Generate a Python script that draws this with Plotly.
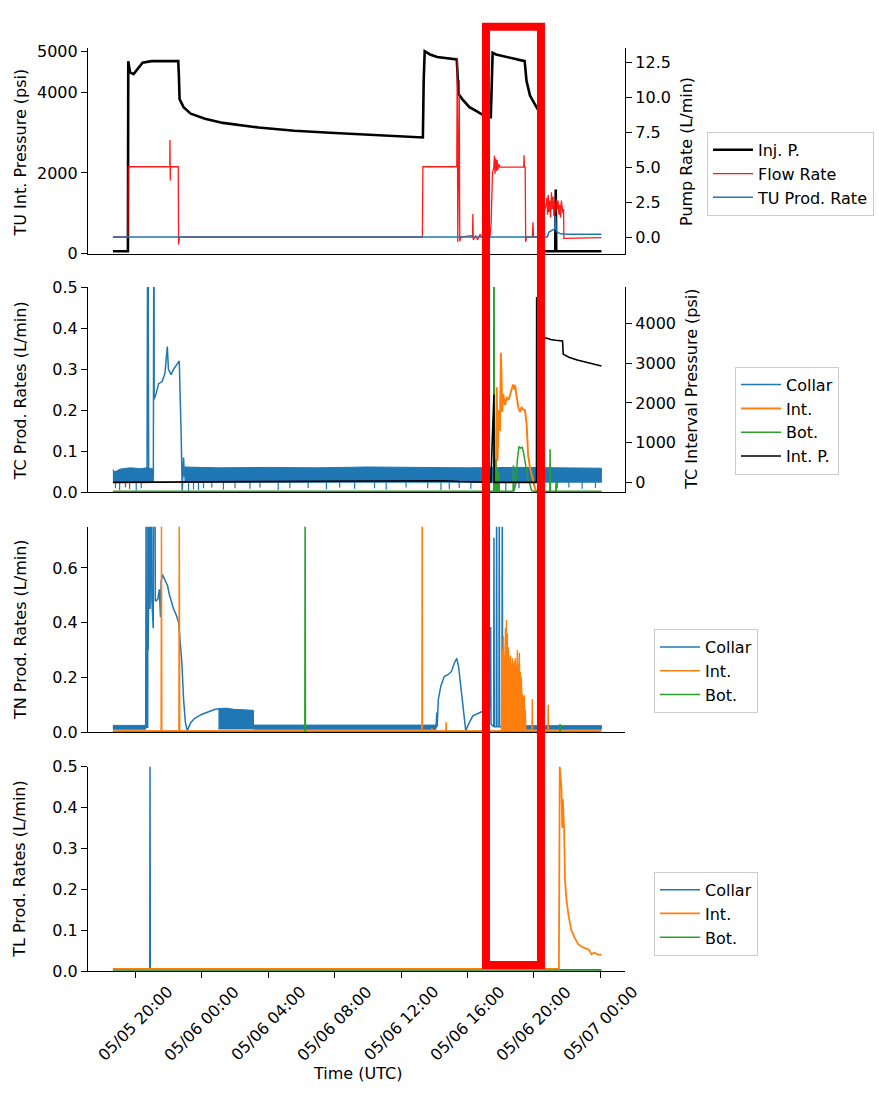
import pandas as pd
import plotly.graph_objects as go

# ---------------- time helpers (hours after 05/05 20:00 UTC) ----------------
BASE = pd.Timestamp("2022-05-05 20:00")


def T(hours):
    return [None if h is None else (BASE + pd.Timedelta(hours=h)).strftime("%Y-%m-%d %H:%M:%S") for h in hours]


x_range_h = [-2.854, 29.48]
tick_h = [0, 4, 8, 12, 16, 20, 24, 28]
tick_labels = ["05/05 20:00", "05/06 00:00", "05/06 04:00", "05/06 08:00",
               "05/06 12:00", "05/06 16:00", "05/06 20:00", "05/07 00:00"]

# ---------------- Panel 1: TU ----------------
inj_t = [-1.355, -0.45, -0.43, -0.32, -0.11, 0.11, 0.43, 0.97, 2.58, 2.62, 2.66, 2.90, 3.33, 4.19, 5.27,
         7.42, 9.57, 11.72, 13.87, 16.02, 17.31, 17.36, 17.42, 17.74, 18.17, 19.35, 19.40, 19.46, 19.68,
         20.11, 20.54, 20.86, 21.40, 21.46, 21.51, 21.72, 22.47, 23.44, 23.50, 23.55, 23.76, 24.09, 24.24,
         24.40, 24.45, 24.73, 25.28, 25.31, 25.34, 28.06]
inj_p = [60, 60, 4770, 4490, 4450, 4570, 4730, 4770, 4770, 4400, 3830, 3630, 3470, 3345, 3240,
         3125, 3045, 2995, 2955, 2920, 2880, 4300, 5015, 4935, 4870, 4810, 4300, 3955, 3830,
         3630, 3530, 3450, 3385, 4500, 4975, 4935, 4855, 4770, 4500, 4280, 3915, 3670, 3565,
         3500, 60, 60, 60, 1590, 60, 60]

flow_t = [-1.355, -0.45, -0.43, 2.07, 2.08, 2.10, 2.11, 2.58, 2.60, 2.65, 17.28, 17.31, 19.35, 19.38, 19.41,
          19.50, 19.53, 19.60, 20.20, 20.30, 20.32, 20.34, 20.50, 20.60, 20.75, 20.86, 21.35, 21.42, 21.50,
          21.58, 21.62, 21.65, 21.70, 21.74, 21.78, 21.82, 21.88, 21.95, 23.38, 23.40, 23.42, 23.47, 23.50,
          23.55, 23.90, 23.94, 23.97, 24.20, 24.75, 24.78, 24.82, 24.86, 24.90, 24.95, 25.00, 25.05, 25.10,
          25.15, 25.20, 25.25, 25.30, 25.35, 25.40, 25.45, 25.50, 25.55, 25.60, 25.65, 25.70, 25.74, 25.78,
          25.80, 28.06]
flow_v = [0, 0, 5.02, 5.02, 6.94, 4.04, 5.02, 5.02, -0.54, 0, 0, 5.02, 5.02, 12.8, -0.35,
          11.2, -0.3, 0, 0.1, 0, 1.64, -0.2, 0.1, -0.2, 0.2, 0, 0, 1.0, 4.6,
          5.0, 5.8, 4.5, 5.6, 4.7, 5.5, 4.8, 5.2, 5.0, 5.0, 5.84, 5.0, 5.0, -0.35,
          0, 0, 1.05, 0, 0, 2.4, 2.8, 1.6, 3.0, 1.8, 2.6, 1.4, 3.2, 2.0,
          2.9, 1.5, 2.5, 1.8, 2.7, 2.0, 2.6, 1.6, 2.3, 1.4, 2.6, 2.1, 1.7, 2.0,
          -0.1, -0.05]

tu_t = [-1.355, 24.80, 24.90, 25.10, 25.25, 25.30, 25.33, 25.40, 25.60, 26.00, 28.06]
tu_v = [0, 0, 0.35, 0.5, 0.58, 1.5, 0.5, 0.35, 0.23, 0.2, 0.19]

# ---------------- Panel 2: TC ----------------
tc_collar_t = [-1.355, 0.70, 0.75, 0.80, 1.08, 1.12, 1.13, 1.24, 1.40, 1.61, 1.78, 1.92, 1.99, 2.15, 2.30,
               2.47, 2.64, 2.75, 2.82, 2.90, 2.95, 28.06]
tc_collar_v = [0.05, 0.04, 0.9, 0.04, 0.04, 0.9, 0.227, 0.24, 0.265, 0.27, 0.29, 0.355, 0.30, 0.287, 0.30,
               0.31, 0.32, 0.15, 0.005, 0.085, 0.04, 0.04]
tc_band1_t = [-1.355, -1.25, -0.9, -0.3, 0.3, 0.7, 1.08]
tc_band1_hi = [0.056, 0.050, 0.057, 0.060, 0.058, 0.060, 0.057]
tc_band1_lo = [0.025, 0.025, 0.024, 0.025, 0.025, 0.024, 0.025]
tc_band2_t = [2.95, 5.0, 8.0, 11.0, 14.0, 17.0, 20.0, 23.0, 26.0, 28.06]
tc_band2_hi = [0.062, 0.060, 0.061, 0.060, 0.062, 0.061, 0.060, 0.061, 0.060, 0.059]
tc_band2_lo = [0.025, 0.024, 0.025, 0.025, 0.024, 0.025, 0.025, 0.024, 0.025, 0.025]
tc_dip_t = [-1.2, -0.95, -0.6, -0.35, 0.05, 0.35, 3.2, 3.5, 3.8, 4.1, 4.6, 5.3, 6.0, 6.9, 7.5, 8.6, 9.3,
            10.4, 11.5, 12.3, 13.2, 14.4, 15.1, 16.3, 17.6, 18.4, 18.9, 19.5, 20.2, 21.0, 22.3, 23.1,
            24.6, 25.4, 26.1, 26.9, 27.7]
tc_dip_v = [0.010, 0.006, 0.012, 0.008, 0.005, 0.010, 0.004, 0.008, 0.006, 0.010, 0.012, 0.007, 0.010,
            0.009, 0.012, 0.006, 0.010, 0.011, 0.008, 0.012, 0.009, 0.010, 0.007, 0.012, 0.010, 0.006,
            0.008, 0.011, 0.009, 0.012, 0.003, 0.010, 0.008, 0.010, 0.012, 0.009, 0.011]

tc_int_t = [-1.355, 21.68, 21.71, 21.76, 21.80, 21.89, 21.95, 22.01, 22.09, 22.14, 22.26, 22.36, 22.47, 22.56,
            22.65, 22.74, 22.83, 22.86, 22.96, 23.07, 23.16, 23.25, 23.32, 23.46, 23.56, 23.64, 23.76, 23.92,
            24.06, 24.18, 28.06]
tc_int_v = [0.0, 0.0, 0.01, 0.256, 0.077, 0.20, 0.15, 0.34, 0.196, 0.24, 0.213, 0.232, 0.225, 0.237,
            0.245, 0.263, 0.25, 0.262, 0.232, 0.205, 0.196, 0.208, 0.203, 0.20, 0.165, 0.093, 0.06, 0.036,
            0.01, 0.0, 0.0]

tc_bot_t = [-1.355, 21.57, 21.59, 21.62, 21.70, 21.73, 21.78, 21.82, 21.88, 21.92, 22.74, 22.76, 22.79,
            22.90, 23.00, 23.05, 23.10, 23.20, 23.30, 23.38, 23.45, 23.55, 23.65, 23.75, 23.85, 24.00,
            24.95, 24.97, 24.99, 25.31, 25.33, 25.35, 28.06]
tc_bot_v = [0.003, 0.003, 0.9, 0.0, 0.08, 0.0, 0.06, 0.0, 0.05, 0.003, 0.003, 0.066, 0.003,
            0.02, 0.08, 0.10, 0.112, 0.108, 0.11, 0.095, 0.075, 0.05, 0.03, 0.02, 0.005, 0.003,
            0.003, 0.105, 0.003, 0.003, 0.026, 0.003, 0.003]

tc_intp_t = [-1.355, 17.5, 18.5, 19.5, 21.40, 21.50, 21.57, 21.59, 21.60, 24.15, 24.16, 24.30, 24.79, 25.0,
             25.3, 25.72, 25.76, 26.1, 26.6, 27.2, 27.7, 28.06]
tc_intp_v = [0, 30, 40, 20, 0, 1200, 2200, 2210, 0, 0, 4670, 3650, 3630, 3600,
             3580, 3560, 3230, 3150, 3080, 3020, 2960, 2930]

# ---------------- Panel 3: TN ----------------
tn_collar_t = [-1.355, 0.62, 0.645, 0.66, 0.74, 0.753, 0.77, 0.86, 0.88, 0.968, 0.99, 1.075, 1.09, 1.18,
               1.20, 1.25, 1.35, 1.44, 1.51, 1.55, 1.63, 1.76, 1.94, 2.04, 2.15, 2.30, 2.47, 2.60, 2.69,
               2.80, 2.90, 3.01, 3.12, 3.33, 3.55, 3.98, 4.41, 4.86, 5.0, 7.09, 7.10, 18.10, 18.15,
               18.17, 18.24, 18.39, 18.60, 18.82, 19.03, 19.20, 19.35, 19.46, 19.68, 19.89, 20.11, 20.32,
               20.75, 21.08, 21.37, 21.39, 21.41, 21.57, 21.59, 21.61, 21.73, 21.75, 21.77, 21.89, 21.91,
               21.93, 22.07, 22.09, 22.11, 28.06]
tn_collar_v = [0.018, 0.018, 0.9, 0.018, 0.018, 0.9, 0.30, 0.9, 0.45, 0.9, 0.48, 0.38, 0.9, 0.9,
               0.48, 0.48, 0.486, 0.522, 0.42, 0.55, 0.576, 0.56, 0.534, 0.504, 0.48, 0.45, 0.426, 0.402,
               0.336, 0.252, 0.12, 0.036, 0.006, 0.035, 0.05, 0.065, 0.075, 0.085, 0.085, 0.078, 0.018,
               0.018, 0.072, 0.02, 0.12, 0.168, 0.204, 0.21, 0.222, 0.252, 0.27, 0.24, 0.12, 0.006, 0.036,
               0.06, 0.072, 0.08, 0.087, 0.384, 0.03, 0.02, 0.71, 0.02, 0.02, 0.9, 0.02, 0.02, 0.9,
               0.02, 0.02, 0.9, 0.018, 0.018]
tn_base1_t = [-1.355, 0.62]
tn_base1_hi = [0.025, 0.025]
tn_base1_lo = [0.011, 0.011]
tn_block_t = [5.0, 5.5, 6.0, 6.5, 7.09]
tn_block_hi = [0.086, 0.088, 0.083, 0.081, 0.080]
tn_block_lo = [0.012, 0.012, 0.012, 0.012, 0.012]
tn_base2_t = [7.10, 12.0, 18.10]
tn_base2_hi = [0.026, 0.025, 0.026]
tn_base2_lo = [0.011, 0.011, 0.011]
tn_base3_t = [22.11, 28.06]
tn_base3_hi = [0.024, 0.024]
tn_base3_lo = [0.011, 0.011]

tn_int_t = [-1.355, 1.55, 1.57, 1.59, 2.62, 2.645, 2.67, 17.25, 17.27, 17.29, 17.83, 17.85, 17.87, 18.69,
            18.71, 18.73, 22.04,
            22.07, 22.10, 22.13, 22.16, 22.19, 22.22, 22.25, 22.28, 22.31, 22.34, 22.37, 22.40, 22.43,
            22.46, 22.49, 22.52, 22.55, 22.58, 22.61, 22.64, 22.67, 22.70, 22.73, 22.76, 22.79, 22.82,
            22.85, 22.88, 22.91, 22.94, 22.97, 23.00, 23.03, 23.06, 23.09, 23.12, 23.15, 23.18, 23.21,
            23.24, 23.27, 23.30, 23.33, 23.36, 23.39, 23.42, 23.45, 23.48, 23.51,
            23.88, 23.90, 23.92, 24.84, 24.86, 24.88, 28.06]
tn_int_v = [0.005, 0.005, 0.9, 0.005, 0.005, 0.9, 0.005, 0.005, 0.9, 0.005, 0.005, 0.015, 0.005, 0.005,
            0.036, 0.005, 0.005,
            0.30, 0.12, 0.33, 0.35, 0.15, 0.28, 0.17, 0.38, 0.20, 0.41, 0.18, 0.36, 0.16,
            0.31, 0.17, 0.27, 0.15, 0.28, 0.17, 0.25, 0.16, 0.27, 0.18, 0.25, 0.17, 0.26,
            0.15, 0.27, 0.18, 0.24, 0.16, 0.30, 0.17, 0.25, 0.15, 0.29, 0.16, 0.22, 0.14,
            0.20, 0.12, 0.14, 0.10, 0.13, 0.09, 0.135, 0.05, 0.08, 0.005,
            0.005, 0.12, 0.005, 0.005, 0.10, 0.005, 0.005]

tn_bot_t = [-1.355, 10.20, 10.22, 10.24, 25.55, 25.57, 25.59, 28.06]
tn_bot_v = [0.0, 0.0, 0.9, 0.0, 0.0, 0.03, 0.0, 0.0]

# ---------------- Panel 4: TL ----------------
tl_collar_t = [-1.355, 0.86, 0.88, 0.90, 28.06]
tl_collar_v = [0.003, 0.003, 0.5, 0.003, 0.003]
tl_int_t = [-1.355, 25.50, 25.55, 25.66, 25.70, 25.74, 25.81, 25.87, 25.96, 26.09, 26.24, 26.45, 26.67,
            26.99, 27.31, 27.46, 27.63, 27.85, 28.06]
tl_int_v = [0.005, 0.005, 0.5, 0.444, 0.35, 0.42, 0.35, 0.22, 0.173, 0.133, 0.101, 0.081, 0.065,
            0.057, 0.052, 0.041, 0.045, 0.04, 0.04]
tl_bot_t = [-1.355, 28.06]
tl_bot_v = [0.0, 0.0]

# highlight box (hours)
box_h = [21.11, 24.42]

# ---------------- styling ----------------
BLUE = "#1f77b4"
ORANGE = "#ff7f0e"
GREEN = "#2ca02c"
FONT = "DejaVu Sans"
W, H = 879, 1095


def py(px):
    return 1 - px / H


def pxx(px):
    return px / W


fig = go.Figure()


def line(t, v, name, color, width, xa, ya, legend=None, show=True):
    fig.add_trace(go.Scatter(x=T(t), y=v, mode="lines", name=name,
                             line=dict(color=color, width=width), xaxis=xa, yaxis=ya,
                             legend=legend, showlegend=show, hoverinfo="skip"))


def area(t, v, color, xa, ya):
    fig.add_trace(go.Scatter(x=T(t), y=v, mode="lines", fill="tozeroy", fillcolor=color,
                             line=dict(color=color, width=0.5), xaxis=xa, yaxis=ya,
                             showlegend=False, hoverinfo="skip"))


def band(t, hi, lo, color, xa, ya):
    fig.add_trace(go.Scatter(x=T(t + t[::-1]), y=hi + lo[::-1], mode="lines", fill="toself",
                             fillcolor=color, line=dict(color=color, width=1), xaxis=xa, yaxis=ya,
                             showlegend=False, hoverinfo="skip"))


def dips(t, v, base, color, xa, ya):
    xs, ys = [], []
    for ti, vi in zip(t, v):
        xs += [ti, ti, None]
        ys += [base, vi, None]
    fig.add_trace(go.Scatter(x=T(xs), y=ys, mode="lines", line=dict(color=color, width=1.2),
                             xaxis=xa, yaxis=ya, showlegend=False, hoverinfo="skip", connectgaps=False))


# Panel 1
line(inj_t, inj_p, "Inj. P.", "black", 2.6, "x", "y", "legend")
line(flow_t, flow_v, "Flow Rate", "rgba(255,0,0,0.9)", 1.3, "x", "y5", "legend")
line(tu_t, tu_v, "TU Prod. Rate", BLUE, 1.5, "x", "y5", "legend")

# Panel 2
band(tc_band1_t, tc_band1_hi, tc_band1_lo, BLUE, "x2", "y2")
band(tc_band2_t, tc_band2_hi, tc_band2_lo, BLUE, "x2", "y2")
dips(tc_dip_t, tc_dip_v, 0.025, BLUE, "x2", "y2")
line(tc_collar_t, tc_collar_v, "Collar", BLUE, 1.5, "x2", "y2", "legend2")
line(tc_int_t, tc_int_v, "Int.", ORANGE, 2.0, "x2", "y2", "legend2")
line(tc_bot_t, tc_bot_v, "Bot.", GREEN, 1.5, "x2", "y2", "legend2")
line(tc_intp_t, tc_intp_v, "Int. P.", "black", 1.6, "x2", "y6", "legend2")

# Panel 3
band(tn_base1_t, tn_base1_hi, tn_base1_lo, BLUE, "x3", "y3")
band(tn_block_t, tn_block_hi, tn_block_lo, BLUE, "x3", "y3")
band(tn_base2_t, tn_base2_hi, tn_base2_lo, BLUE, "x3", "y3")
band(tn_base3_t, tn_base3_hi, tn_base3_lo, BLUE, "x3", "y3")
line(tn_collar_t, tn_collar_v, "Collar", BLUE, 1.5, "x3", "y3", "legend3")
area(tn_int_t, tn_int_v, ORANGE, "x3", "y3")
line(tn_int_t, tn_int_v, "Int.", ORANGE, 1.3, "x3", "y3", "legend3")
line(tn_bot_t, tn_bot_v, "Bot.", GREEN, 1.5, "x3", "y3", "legend3")

# Panel 4
line(tl_collar_t, tl_collar_v, "Collar", BLUE, 1.5, "x4", "y4", "legend4")
line(tl_int_t, tl_int_v, "Int.", ORANGE, 1.8, "x4", "y4", "legend4")
line(tl_bot_t, tl_bot_v, "Bot.", GREEN, 1.5, "x4", "y4", "legend4")

# ---------------- axes ----------------
xdom = [pxx(88), pxx(625)]
panels = [(39.5, 249), (283, 492), (527, 736), (771, 979)]
tickfont = dict(family=FONT, size=16, color="black")
xr = T(x_range_h)

common_x = dict(type="date", range=xr, domain=xdom, showgrid=False, zeroline=False, showline=True,
                linecolor="black", linewidth=1.2, showticklabels=False)
fig.update_layout(
    xaxis=dict(anchor="y", ticks="", **common_x),
    xaxis2=dict(anchor="y2", ticks="", **common_x),
    xaxis3=dict(anchor="y3", ticks="", **common_x),
    xaxis4=dict(anchor="y4", ticks="outside", ticklen=6, tickwidth=1.2, tickcolor="black",
                tickvals=T(tick_h), **common_x),
)

common_y = dict(showgrid=False, zeroline=False, showline=True, linecolor="black", linewidth=1.2,
                ticks="outside", ticklen=6, tickwidth=1.2, tickcolor="black", tickfont=tickfont)
fig.update_layout(
    yaxis=dict(domain=[py(panels[0][1]), py(panels[0][0])], anchor="x", range=[0, 5100],
               tickvals=[0, 2000, 4000, 5000], **common_y),
    yaxis5=dict(overlaying="y", side="right", anchor="x", range=[-1.19, 13.52],
                tickvals=[0, 2.5, 5, 7.5, 10, 12.5], tickformat=".1f", **common_y),
    yaxis2=dict(domain=[py(panels[1][1]), py(panels[1][0])], anchor="x2", range=[0, 0.5],
                tickvals=[0, 0.1, 0.2, 0.3, 0.4, 0.5], tickformat=".1f", **common_y),
    yaxis6=dict(overlaying="y2", side="right", anchor="x2", range=[-255, 4918],
                tickvals=[0, 1000, 2000, 3000, 4000], **common_y),
    yaxis3=dict(domain=[py(panels[2][1]), py(panels[2][0])], anchor="x3", range=[0, 0.75],
                tickvals=[0, 0.2, 0.4, 0.6], tickformat=".1f", **common_y),
    yaxis4=dict(domain=[py(panels[3][1]), py(panels[3][0])], anchor="x4", range=[0, 0.5],
                tickvals=[0, 0.1, 0.2, 0.3, 0.4, 0.5], tickformat=".1f", **common_y),
)

# ---------------- legends ----------------
leg = dict(xanchor="left", yanchor="top", bordercolor="#cccccc", borderwidth=1, bgcolor="white",
           font=dict(family=FONT, size=16, color="black"), itemwidth=40, traceorder="normal")
fig.update_layout(
    legend=dict(x=pxx(707), y=py(125), **leg),
    legend2=dict(x=pxx(735), y=py(364), **leg),
    legend3=dict(x=pxx(654), y=py(631), **leg),
    legend4=dict(x=pxx(654), y=py(878), **leg),
)

# ---------------- titles & tick labels (annotations) ----------------
ann = []
titles = [
    ("TU Int. Pressure (psi)", 20, 146, -90),
    ("TC Prod. Rates (L/min)", 20, 389, -90),
    ("TN Prod. Rates (L/min)", 20, 632, -90),
    ("TL Prod. Rates (L/min)", 20, 875, -90),
    ("Pump Rate (L/min)", 686.5, 145, -90),
    ("TC Interval Pressure (psi)", 691.5, 387, -90),
    ("Time (UTC)", 357, 1083, 0),
]
for txt, xp, yp, ang in titles:
    ann.append(dict(text=txt, x=pxx(xp), y=py(yp), xref="paper", yref="paper", showarrow=False,
                    textangle=ang, xanchor="center", yanchor="middle",
                    font=dict(family=FONT, size=16, color="black")))
for th, lab in zip(T(tick_h), tick_labels):
    ann.append(dict(text=lab, x=th, y=py(988), xref="x4", yref="paper", showarrow=False,
                    textangle=-45, xanchor="center", yanchor="top",
                    font=dict(family=FONT, size=16, color="black")))
fig.update_layout(annotations=ann)

# highlight rectangle
bx = T(box_h)
fig.add_shape(type="rect", xref="x4", yref="paper", x0=bx[0], x1=bx[1], y0=py(973), y1=py(18),
              line=dict(color="#ff0000", width=8), fillcolor="rgba(0,0,0,0)", layer="above")

fig.update_layout(width=W, height=H, margin=dict(l=0, r=0, t=0, b=0), plot_bgcolor="white",
                  paper_bgcolor="white", font=dict(family=FONT, size=16, color="black"))

fig.write_html("out.html", config={"displayModeBar": False})
